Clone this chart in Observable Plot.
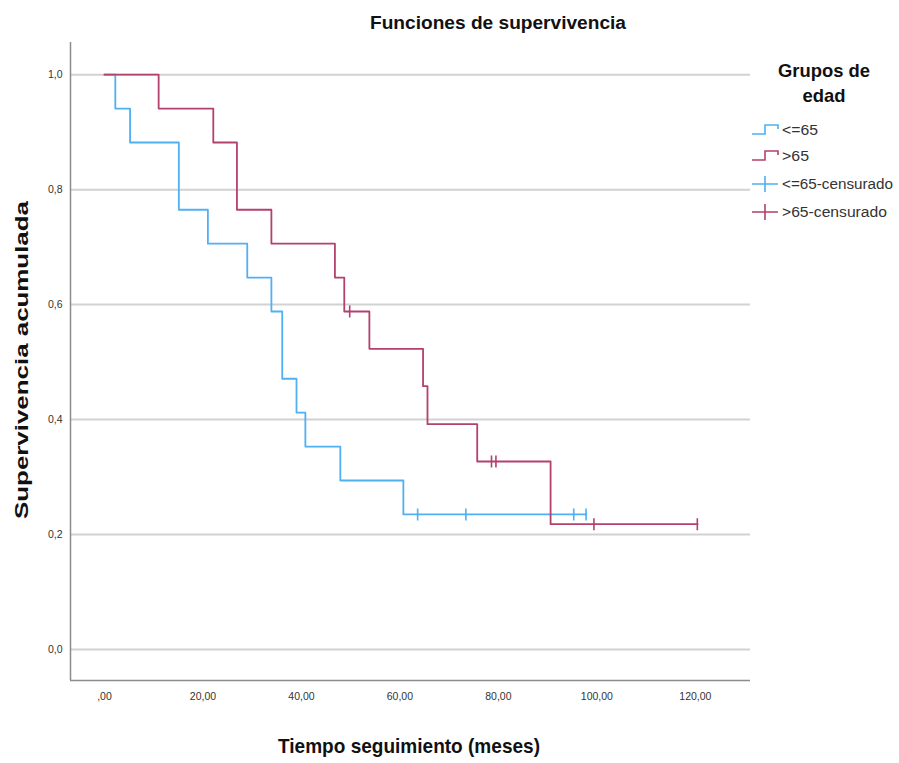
<!DOCTYPE html>
<html>
<head>
<meta charset="utf-8">
<script src="https://cdn.jsdelivr.net/npm/d3@7"></script>
<script src="https://cdn.jsdelivr.net/npm/@observablehq/plot@0.6"></script>
<style>
  html, body { margin: 0; padding: 0; background: #fff; }
  #chart svg { display: block; }
</style>
</head>
<body>
<div id="chart"></div>
<script>
// ---- data ----
const groups = ["<=65", ">65"];
const blueTimes = [0, 2.2, 5.2, 15.1, 21.0, 29.0, 33.9, 36.1, 39.0, 40.8, 47.9, 60.7, 97.8];
const blueSurv  = [1, 0.941, 0.882, 0.765, 0.706, 0.647, 0.588, 0.471, 0.412, 0.353, 0.294, 0.235, 0.235];
const blueCensT = [63.6, 73.4, 95.3, 97.8];
const blueCensS = [0.235, 0.235, 0.235, 0.235];
const redTimes  = [0, 11.0, 22.1, 26.9, 33.9, 46.8, 48.7, 53.8, 64.7, 65.6, 75.7, 90.6, 120.4];
const redSurv   = [1, 0.941, 0.882, 0.765, 0.706, 0.647, 0.588, 0.523, 0.458, 0.392, 0.327, 0.218, 0.218];
const redCensT  = [49.8, 78.6, 79.5, 99.4, 120.4];
const redCensS  = [0.588, 0.327, 0.327, 0.218, 0.218];
const yTicks = [0, 0.2, 0.4, 0.6, 0.8, 1.0];
const yTickLabels = ["0,0", "0,2", "0,4", "0,6", "0,8", "1,0"];
const xTicks = [0, 20, 40, 60, 80, 100, 120];
const xTickLabels = [",00", "20,00", "40,00", "60,00", "80,00", "100,00", "120,00"];
const legendLabels = ["<=65", ">65", "<=65-censurado", ">65-censurado"];

const colors = {"<=65": "#4fb0f2", ">65": "#b3416e"};
const xDomain = [-6.9, 131.2];
const yDomain = [-0.054, 1.056];

const steps = [
  ...blueTimes.map((t, i) => ({group: groups[0], t, s: blueSurv[i]})),
  ...redTimes.map((t, i) => ({group: groups[1], t, s: redSurv[i]}))
];
const cens = [
  ...blueCensT.map((t, i) => ({group: groups[0], t, s: blueCensS[i]})),
  ...redCensT.map((t, i) => ({group: groups[1], t, s: redCensS[i]}))
];

const tickSymbol = {
  draw(ctx) { ctx.moveTo(0, -6); ctx.lineTo(0, 6); ctx.moveTo(-1,0); ctx.lineTo(1,0); }
};

const font = "Liberation Sans, Arial, Helvetica, sans-serif";

const plot = Plot.plot({
  width: 899,
  height: 763,
  marginLeft: 70,
  marginRight: 149,
  marginTop: 42,
  marginBottom: 83,
  style: {fontFamily: font, fontSize: "10.5px", color: "#333", background: "#fff"},
  x: {domain: xDomain, ticks: xTicks, tickSize: 0, tickPadding: 12,
      tickFormat: d => xTickLabels[xTicks.indexOf(d)], label: null},
  y: {domain: yDomain, ticks: yTicks, tickSize: 0, tickPadding: 8,
      tickFormat: d => yTickLabels[yTicks.indexOf(d)], label: null},
  color: {domain: groups, range: groups.map(g => colors[g])},
  marks: [
    Plot.ruleY(yTicks, {stroke: "#d2d2d2", strokeWidth: 2}),
    Plot.ruleX([xDomain[0]], {stroke: "#8c8c8c", strokeWidth: 1.5}),
    Plot.ruleY([yDomain[0]], {stroke: "#8c8c8c", strokeWidth: 1.5}),
    Plot.line(steps, {x: "t", y: "s", z: "group", stroke: "group", curve: "step-after", strokeWidth: 1.8}),
    Plot.dot(cens, {x: "t", y: "s", stroke: "group", symbol: tickSymbol, strokeWidth: 1.6, fill: "none"})
  ]
});

document.getElementById("chart").appendChild(plot);

// ---- title, axis titles, legend (text) ----
const svg = d3.select(plot);
function addText(txt, x, y, opts) {
  const t = svg.append("text").text(txt)
    .attr("x", x).attr("y", y)
    .attr("font-family", font)
    .attr("font-size", opts.size)
    .attr("font-weight", opts.bold ? "bold" : "normal")
    .attr("fill", opts.fill || "#111")
    .attr("text-anchor", opts.anchor || "middle");
  if (opts.len) t.attr("textLength", opts.len).attr("lengthAdjust", "spacingAndGlyphs");
  if (opts.rotate) t.attr("transform", `rotate(${opts.rotate},${x},${y})`);
  return t;
}
addText("Funciones de supervivencia", 498, 29, {size: 18, bold: true, len: 256});
addText("Tiempo seguimiento (meses)", 409, 753, {size: 21, bold: true, len: 262});
addText("Supervivencia acumulada", 28, 360, {size: 18, bold: true, len: 318, rotate: -90});
addText("Grupos de", 824, 77, {size: 19, bold: true, len: 92});
addText("edad", 824, 102, {size: 19, bold: true, len: 43});

const itemY = [130, 156, 184, 212];
const itemLen = [36, 27, 111, 105];
const itemGroup = [groups[0], groups[1], groups[0], groups[1]];
legendLabels.forEach((lab, i) => {
  const y = itemY[i];
  const c = colors[itemGroup[i]];
  if (i < 2) {
    svg.append("path")
      .attr("d", `M752,${y + 4}H765V${y - 5}H778V${y - 1}`)
      .attr("fill", "none").attr("stroke", c).attr("stroke-width", 1.6);
  } else {
    svg.append("path")
      .attr("d", `M752,${y}H778M765,${y - 8}V${y + 8}`)
      .attr("fill", "none").attr("stroke", c).attr("stroke-width", 1.6);
  }
  addText(lab, 782, y + 5, {size: 14, anchor: "start", len: itemLen[i], fill: "#333"});
});
</script>
</body>
</html>
